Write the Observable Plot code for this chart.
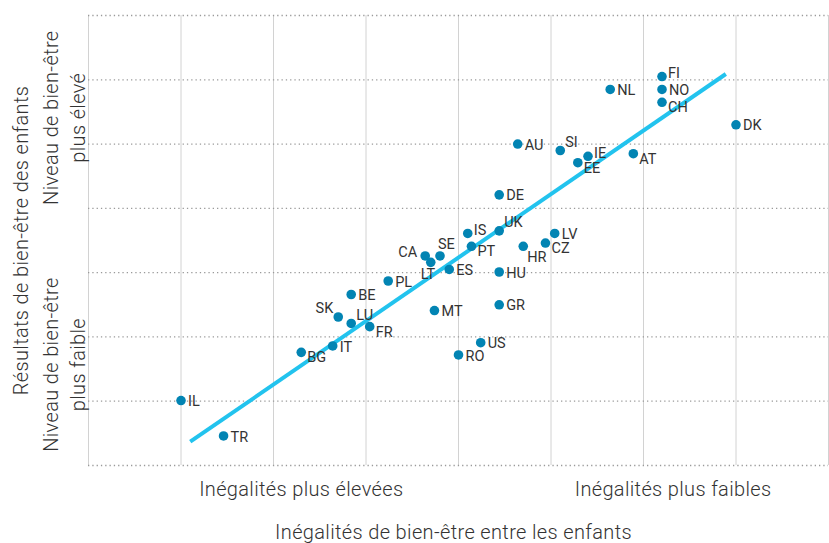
<!DOCTYPE html>
<html>
<head>
<meta charset="utf-8">
<script src="https://cdn.jsdelivr.net/npm/d3@7"></script>
<script src="https://cdn.jsdelivr.net/npm/@observablehq/plot@0.6"></script>
<style>
  html, body { margin: 0; padding: 0; background: #ffffff; }
  #chart svg { display: block; }
  #chart g[font-size="20"] text { letter-spacing: 0.35px; }
</style>
</head>
<body>
<div id="chart"></div>
<script>
// ---- Data (in grid units) ----
const countries = ["IL","TR","BG","IT","SK","LU","BE","FR","PL","CA","LT","SE","MT","ES","RO","IS","PT","US","DE","UK","HU","GR","AU","HR","CZ","LV","SI","EE","IE","NL","AT","FI","NO","CH","DK"];
const inequality = [1.00,1.46,2.30,2.64,2.70,2.84,2.84,3.04,3.24,3.64,3.70,3.80,3.74,3.90,4.00,4.10,4.14,4.24,4.44,4.44,4.44,4.44,4.64,4.70,4.94,5.04,5.10,5.29,5.40,5.64,5.89,6.20,6.20,6.20,7.00];
const wellbeing  = [1.01,0.46,1.76,1.86,2.31,2.21,2.66,2.16,2.87,3.26,3.16,3.26,2.41,3.05,1.72,3.61,3.41,1.91,4.21,3.65,3.01,2.50,5.00,3.41,3.46,3.61,4.90,4.71,4.81,5.85,4.85,6.05,5.85,5.65,5.30];
const labelPlacement = ["e","e","se","e","nw","ne","e","se","e","w","s","n","e","e","e","eu","se","e","e","ne","e","e","e","sse","se","e","ne","se","eu","e","se","eu","e","se","e"];

const fitX = [1.10, 6.89];
const fitY = [0.37, 6.09];

const gridX = [0,1,2,3,4,5,6,7,8];
const gridY = [0,1,2,3,4,5,6,7];

const xTickValues = [2.30, 6.32];
const xTickLabels = ["Inégalités plus élevées", "Inégalités plus faibles"];
const yTickValues = [5.41, 1.57];
const yTickLabels = ["Niveau de bien-être\nplus élevé", "Niveau de bien-être\nplus faible"];
const xTitle = "Inégalités de bien-être entre les enfants";
const yTitle = "Résultats de bien-être des enfants";

// ---- Build table ----
const rows = countries.map((c, i) => ({country: c, x: inequality[i], y: wellbeing[i], pos: labelPlacement[i]}));

const placements = {
  e:   {dx: 7,   dy: 1,    textAnchor: "start"},
  eu:  {dx: 6,   dy: -3,   textAnchor: "start"},
  ne:  {dx: 5,   dy: -8,   textAnchor: "start"},
  se:  {dx: 6,   dy: 5.5,  textAnchor: "start"},
  sse: {dx: 4,   dy: 11,   textAnchor: "start"},
  w:   {dx: -8,  dy: -3.5, textAnchor: "end"},
  nw:  {dx: -5,  dy: -9,   textAnchor: "end"},
  n:   {dx: -2,  dy: -12,  textAnchor: "start"},
  s:   {dx: -10, dy: 12.5, textAnchor: "start"}
};

const labelMarks = Object.entries(placements).map(([key, opt]) =>
  Plot.text(rows.filter(d => d.pos === key), {
    x: "x", y: "y", text: "country",
    fill: "#333333", fontSize: 14.5, lineAnchor: "middle",
    ...opt
  })
);

const fontFamily = "Roboto, 'Liberation Sans', sans-serif";
const axisFont = {fontSize: 20, fontWeight: 300, fill: "#333333", lineAnchor: "middle"};

const chart = Plot.plot({
  width: 829,
  height: 543,
  marginLeft: 88,
  marginRight: 1,
  marginTop: 15,
  marginBottom: 78,
  x: {domain: [0, 8], axis: null},
  y: {domain: [0, 7], axis: null},
  style: {fontFamily, background: "#ffffff", color: "#333333"},
  marks: [
    Plot.ruleX(gridX, {stroke: "#d2d2d2", strokeWidth: 1}),
    Plot.ruleY(gridY, {stroke: "#9a9a9a", strokeWidth: 1.3, strokeDasharray: "1.3,3"}),
    Plot.line([0, 1], {x: i => fitX[i], y: i => fitY[i], stroke: "#22C3EE", strokeWidth: 4, strokeLinecap: "butt"}),
    Plot.dot(rows, {x: "x", y: "y", r: 4.8, fill: "#0284B3", stroke: "none"}),
    ...labelMarks,
    Plot.text(xTickValues, {x: d => d, text: (d, i) => xTickLabels[i], frameAnchor: "bottom", dy: 24.5, textAnchor: "middle", ...axisFont}),
    Plot.text([xTitle], {frameAnchor: "bottom", dx: -5, dy: 67, textAnchor: "middle", ...axisFont}),
    Plot.text(yTickValues, {y: d => d, text: (d, i) => yTickLabels[i], frameAnchor: "left", dx: -25.7, rotate: -90, lineHeight: 1.35, textAnchor: "middle", ...axisFont}),
    Plot.text([yTitle], {frameAnchor: "left", dx: -67, rotate: -90, textAnchor: "middle", ...axisFont})
  ]
});

document.getElementById("chart").appendChild(chart);
</script>
</body>
</html>
